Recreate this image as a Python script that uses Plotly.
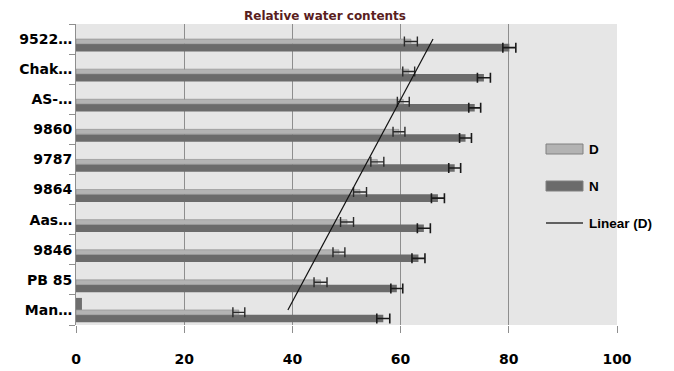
import numpy as np
import plotly.graph_objects as go

# Categories listed bottom -> top
categories = ["Man…", "PB 85", "9846", "Aas…", "9864", "9787", "9860", "AS-…", "Chak…", "9522…"]
d_values = [30.1, 45.2, 48.6, 50.1, 52.5, 55.7, 59.7, 60.5, 61.5, 61.9]
d_errors = [1.1, 1.2, 1.1, 1.2, 1.2, 1.2, 1.1, 1.1, 1.1, 1.2]
n_values = [56.8, 59.3, 63.3, 64.3, 66.9, 70.0, 72.0, 73.7, 75.4, 80.1]
n_errors = [1.2, 1.1, 1.2, 1.2, 1.2, 1.1, 1.1, 1.1, 1.2, 1.2]
extra_values = [1.1, 0, 0, 0, 0, 0, 0, 0, 0, 0]
x_ticks = [0, 20, 40, 60, 80, 100]

FONT = "DejaVu Sans"
LFONT = "Liberation Sans"
D_COLOR = "#b3b3b3"
N_COLOR = "#6b6b6b"

# page offset (default body margin) and target plot area in page pixels
OFF = 8
PAGE_W, PAGE_H = 674, 371
W, H = PAGE_W - OFF, PAGE_H - OFF
L, R, T, B = 76 - OFF, 617 - OFF, 24 - OFF, 325 - OFF

fig = go.Figure()

fig.add_trace(go.Bar(
    y=categories, x=extra_values, orientation="h", name="",
    marker=dict(color="#6e6e6e", line=dict(width=0)),
    offset=0.0, width=0.4, showlegend=False, hoverinfo="skip"))

fig.add_trace(go.Bar(
    y=categories, x=n_values, orientation="h", name="N",
    marker=dict(color=N_COLOR, line=dict(width=0)),
    offset=-0.41, width=0.25,
    error_x=dict(type="data", array=n_errors, visible=True,
                 color="#1a1a1a", thickness=1.6, width=5)))

fig.add_trace(go.Bar(
    y=categories, x=d_values, orientation="h", name="D",
    marker=dict(color=D_COLOR, line=dict(width=0.6, color="#8a8a8a")),
    offset=-0.16, width=0.16,
    error_x=dict(type="data", array=d_errors, visible=True,
                 color="#2a2a2a", thickness=1.4, width=5)))

# Linear trendline of D (least squares on category index, like Excel)
idx = np.arange(1, len(d_values) + 1)
slope, intercept = np.polyfit(idx, d_values, 1)
fig.add_trace(go.Scatter(
    y=[categories[0], categories[-1]],
    x=[slope * idx[0] + intercept, slope * idx[-1] + intercept],
    mode="lines", name="Linear (D)",
    line=dict(color="#111111", width=1.2)))

fig.update_layout(
    width=W, height=H,
    margin=dict(l=L, r=W - R, t=T, b=H - B, pad=0),
    paper_bgcolor="white", plot_bgcolor="#e6e6e6",
    barmode="overlay", showlegend=False,
    title=dict(text="Relative water contents", x=(325 - OFF) / W, xanchor="center",
               y=1 - (16 - OFF) / H, yanchor="middle",
               font=dict(family=FONT, size=12, color="#5a1e1e", weight="bold")),
)

fig.update_xaxes(
    automargin=False,
    range=[0, 100], tickvals=x_ticks, ticktext=[str(v) for v in x_ticks],
    showgrid=True, gridcolor="#8e8e8e", gridwidth=1,
    zeroline=False, showline=False,
    ticks="outside", ticklen=7, tickcolor="#8e8e8e",
    ticklabelstandoff=14,
    tickfont=dict(family=FONT, size=14, color="black", weight="bold"),
)
fig.update_yaxes(
    automargin=False,
    type="category", categoryorder="array", categoryarray=categories,
    range=[-0.5, len(categories) - 0.5],
    showgrid=False, zeroline=False, showline=True, linecolor="#8e8e8e",
    ticks="outside", ticklen=6, tickcolor="#8e8e8e", tickson="boundaries",
    tickfont=dict(family=FONT, size=14, color="black", weight="bold"),
)

# Manual legend (Excel style); positions given in page pixels
def px(xp):
    return (xp - OFF - L) / (R - L)

def py(yp):
    return (B - (yp - OFF)) / (B - T)

legend_items = [("D", "rect", D_COLOR, 149), ("N", "rect", N_COLOR, 186), ("Linear (D)", "line", "#333333", 223)]
for label, kind, color, yc in legend_items:
    if kind == "rect":
        fig.add_shape(type="rect", xref="paper", yref="paper",
                      x0=px(546), x1=px(583), y0=py(yc - 5), y1=py(yc + 5),
                      fillcolor=color, line=dict(color="#808080", width=1))
    else:
        fig.add_shape(type="line", xref="paper", yref="paper",
                      x0=px(546), x1=px(583), y0=py(yc), y1=py(yc),
                      line=dict(color=color, width=1.5))
    fig.add_annotation(text=label, xref="paper", yref="paper",
                       x=px(587), y=py(yc), xanchor="left", yanchor="middle",
                       showarrow=False,
                       font=dict(family=LFONT, size=13.5, color="black", weight="bold"))

fig.write_html("out.html")
